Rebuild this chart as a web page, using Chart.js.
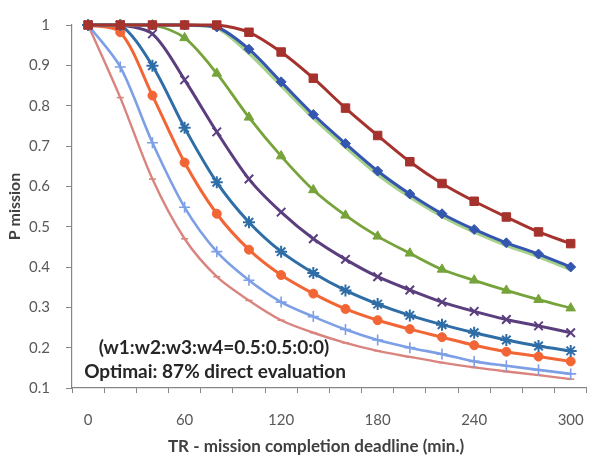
<!DOCTYPE html>
<html>
<head>
<meta charset="utf-8">
<script src="https://cdn.jsdelivr.net/npm/chart.js@4/dist/chart.umd.min.js"></script>
<style>
  html, body { margin: 0; padding: 0; background: #fff; overflow: hidden; }
  #wrap { width: 602px; height: 458px; }
</style>
</head>
<body>
<div id="wrap"><canvas id="c" width="602" height="458"></canvas></div>
<script>
// ---- data ----
const deadlines = [0, 20, 40, 60, 80, 100, 120, 140, 160, 180, 200, 220, 240, 260, 280, 300];
const yTicks = [0.1, 0.2, 0.3, 0.4, 0.5, 0.6, 0.7, 0.8, 0.9, 1];
const xLabelStep = 60;

const redSquares    = [1, 1, 1, 1, 1, 0.982, 0.933, 0.868, 0.794, 0.726, 0.661, 0.607, 0.563, 0.524, 0.487, 0.458];
const blueDiamonds  = [1, 1, 1, 1, 0.995, 0.94, 0.859, 0.778, 0.706, 0.638, 0.581, 0.532, 0.493, 0.46, 0.432, 0.40];
const lightGreen    = [1, 1, 1, 1, 0.993, 0.93, 0.85, 0.77, 0.698, 0.63, 0.574, 0.526, 0.487, 0.454, 0.426, 0.394];
const greenTri      = [1, 1, 1, 0.968, 0.88, 0.771, 0.675, 0.591, 0.528, 0.476, 0.434, 0.394, 0.367, 0.342, 0.319, 0.298];
const purpleX       = [1, 1, 0.978, 0.864, 0.735, 0.618, 0.536, 0.47, 0.419, 0.376, 0.343, 0.313, 0.29, 0.27, 0.254, 0.237];
const blueStar      = [1, 1, 0.899, 0.745, 0.61, 0.511, 0.438, 0.385, 0.342, 0.308, 0.28, 0.257, 0.237, 0.219, 0.204, 0.192];
const orangeCircle  = [1, 0.982, 0.825, 0.659, 0.532, 0.443, 0.38, 0.334, 0.296, 0.268, 0.246, 0.226, 0.206, 0.19, 0.178, 0.166];
const lightBluePlus = [1, 0.896, 0.708, 0.548, 0.438, 0.367, 0.313, 0.277, 0.245, 0.219, 0.2, 0.184, 0.166, 0.155, 0.145, 0.135];
const pinkLine      = [1, 0.82, 0.618, 0.47, 0.376, 0.317, 0.268, 0.237, 0.212, 0.192, 0.177, 0.163, 0.151, 0.141, 0.132, 0.122];

const noteLines = ['(w1:w2:w3:w4=0.5:0.5:0:0)', 'Optimai: 87% direct evaluation'];
const xTitle = 'TR - mission completion deadline (min.)';
const yTitle = 'P mission';

function ds(data, color, style, radius, width, bw) {
  return {
    data: data,
    borderColor: color,
    backgroundColor: color,
    pointBorderColor: color,
    pointBackgroundColor: color,
    pointStyle: style,
    pointRadius: radius,
    pointBorderWidth: bw,
    borderWidth: width,
    tension: 0.3,
    clip: false
  };
}

const datasets = [
  ds(redSquares,    '#A5322C', 'rect',     6,   3, 1),
  ds(blueDiamonds,  '#3556B0', 'rectRot',  5,   3, 1),
  ds(lightGreen,    '#A6D18A', 'circle',   0,   3.6, 1),
  ds(greenTri,      '#76A33A', 'triangle', 5.5, 2.8, 1),
  ds(purpleX,       '#5A3E7E', 'crossRot', 6,   3, 2),
  ds(blueStar,      '#2F6DA6', 'star',     6,   3, 2),
  ds(orangeCircle,  '#F26636', 'circle',   4.5, 3, 1),
  ds(lightBluePlus, '#7D9FE6', 'cross',    5.5, 2.6, 1.6),
  ds(pinkLine,      '#D9847E', 'line',     3.5, 2.4, 1.6)
];

const overlay = {
  id: 'overlay',
  afterDraw(chart) {
    const ctx = chart.ctx;
    ctx.save();
    ctx.fillStyle = '#262626';
    ctx.textAlign = 'center';
    ctx.textBaseline = 'middle';
    ctx.font = 'bold 19px Lato';
    ctx.fillText(noteLines[0], 214, 348);
    ctx.fillText(noteLines[1], 215, 372);
    ctx.fillStyle = '#404040';
    ctx.font = 'bold 17px Lato';
    ctx.fillText(xTitle, 316, 447);
    ctx.restore();
  }
};

new Chart(document.getElementById('c'), {
  type: 'line',
  data: { labels: deadlines.map(String), datasets: datasets },
  plugins: [overlay],
  options: {
    responsive: false,
    animation: false,
    layout: { padding: { top: 19, right: 0, left: 0, bottom: 0 } },
    plugins: { legend: { display: false }, tooltip: { enabled: false } },
    scales: {
      x: {
        type: 'category',
        offset: true,
        grid: { offset: true, drawOnChartArea: false, drawTicks: true, tickLength: 5, color: '#868686', lineWidth: 1 },
        border: { display: true, color: '#868686', width: 1.2 },
        ticks: {
          autoSkip: false, maxRotation: 0, padding: 18,
          color: '#595959', font: { family: 'Lato', size: 15 },
          callback: function(v) { const n = deadlines[v]; return n % xLabelStep === 0 ? String(n) : ''; }
        },
        afterFit: function(s) { s.height = 70; }
      },
      y: {
        min: 0.1, max: 1,
        afterBuildTicks: function(s) { s.ticks = yTicks.map(v => ({ value: v })); },
        grid: { drawOnChartArea: false, drawTicks: true, tickLength: 6, color: '#868686' },
        border: { display: true, color: '#868686', width: 1.2 },
        ticks: {
          padding: 16, color: '#595959', font: { family: 'Lato', size: 15 },
          callback: function(v) { return v === 1 ? '1' : v.toFixed(1); }
        },
        title: { display: true, text: yTitle, color: '#404040', font: { family: 'Lato', size: 16, weight: 'bold' }, padding: { top: 5, bottom: 0 } },
        afterFit: function(s) { s.width = 72; }
      }
    }
  }
});
</script>
</body>
</html>
